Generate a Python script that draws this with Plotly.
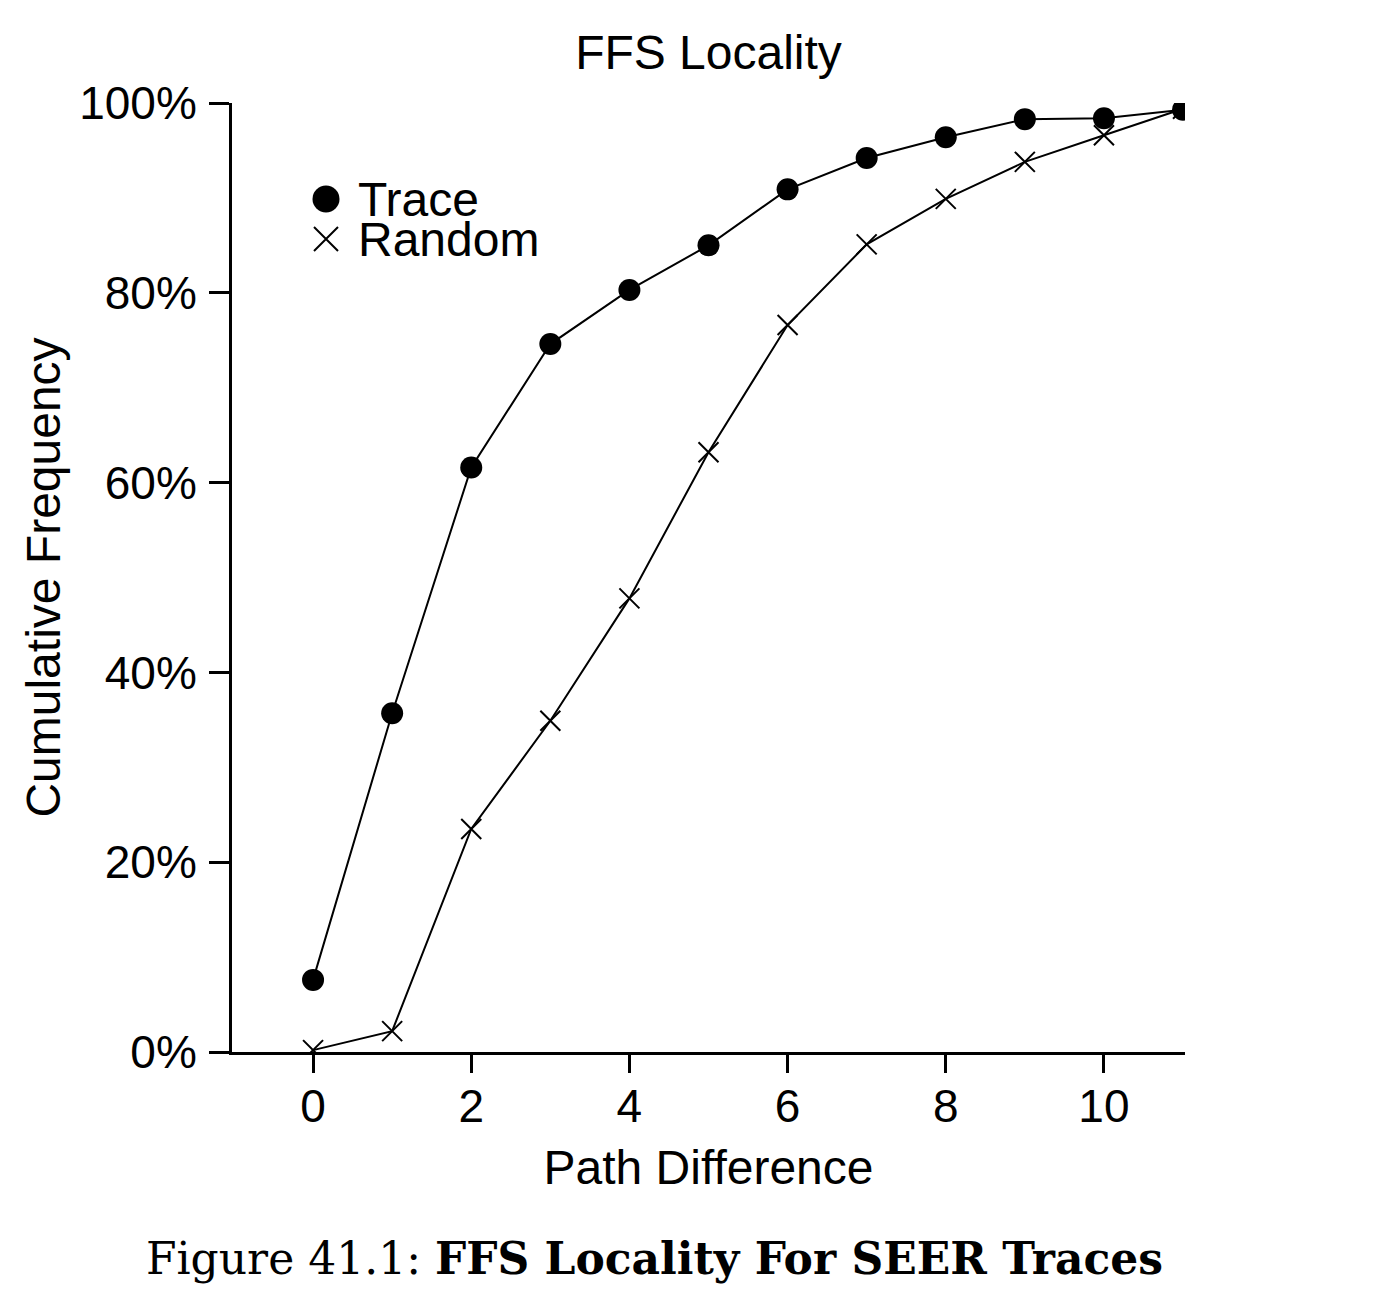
import plotly.graph_objects as go

path_diff = list(range(12))
trace_pct = [7.6, 35.7, 61.6, 74.6, 80.3, 85.0, 90.9, 94.2, 96.4, 98.3, 98.4, 99.3]
random_pct = [0.2, 2.2, 23.5, 34.9, 47.8, 63.2, 76.6, 85.1, 89.9, 93.8, 96.6, 99.4]
y_ticks = [0, 20, 40, 60, 80, 100]
y_tick_labels = ["0%", "20%", "40%", "60%", "80%", "100%"]
x_ticks = [0, 2, 4, 6, 8, 10]
legend_names = ["Trace", "Random"]

FONT = "Liberation Sans, Arial, Helvetica, sans-serif"

W, H = 1396, 1300
L, R, T, B = 232, 211, 103, 248
PW, PH = W - L - R, H - T - B


def px_x(p):
    return (p - L) / PW


def px_y(p):
    return (H - B - p) / PH


fig = go.Figure()
fig.add_trace(go.Scatter(x=path_diff, y=trace_pct, mode="lines+markers", name="Trace",
                         line=dict(color="black", width=2),
                         marker=dict(symbol="circle", size=22, color="black"),
                         showlegend=False))
fig.add_trace(go.Scatter(x=path_diff, y=random_pct, mode="lines+markers", name="Random",
                         line=dict(color="black", width=2),
                         marker=dict(symbol="x-thin", size=20, color="black",
                                     line=dict(color="black", width=2)),
                         showlegend=False))

# custom legend keys on an overlay axis (0..1 coordinates)
fig.add_trace(go.Scatter(x=[0.5], y=[0.5], xaxis="x2", yaxis="y2", mode="markers",
                         marker=dict(symbol="circle", size=27, color="black"),
                         showlegend=False, hoverinfo="skip"))
fig.add_trace(go.Scatter(x=[0.5], y=[-0.5], xaxis="x2", yaxis="y2", mode="markers",
                         marker=dict(symbol="x-thin", size=24, color="black",
                                     line=dict(color="black", width=2)),
                         showlegend=False, hoverinfo="skip"))

legend_y_px = [199, 239]
for name, ypx in zip(legend_names, legend_y_px):
    fig.add_annotation(x=px_x(356), y=px_y(ypx), xref="paper", yref="paper", text=name,
                       showarrow=False, xanchor="left", yanchor="middle",
                       font=dict(family=FONT, size=48, color="black"))

fig.update_layout(
    width=W, height=H,
    margin=dict(l=L, r=R, t=T, b=B),
    paper_bgcolor="white", plot_bgcolor="white",
    font=dict(family=FONT, size=46, color="black"),
    title=dict(text="FFS Locality", x=0.5, xref="paper", y=1 - 52 / H, yanchor="middle",
               font=dict(family=FONT, size=48, color="black")),
    xaxis=dict(range=[-1.025, 11.025], tickvals=x_ticks, showline=True, linewidth=3,
               linecolor="black", ticks="outside", ticklen=18, tickwidth=3, tickcolor="black",
               showgrid=False, zeroline=False, ticklabelstandoff=-6,
               tickfont=dict(family=FONT, size=46),
               title=dict(text="Path Difference", font=dict(family=FONT, size=48), standoff=20)),
    yaxis=dict(range=[0, 100], tickvals=y_ticks, ticktext=y_tick_labels, showline=True, linewidth=3,
               linecolor="black", ticks="outside", ticklen=20, tickwidth=3, tickcolor="black",
               showgrid=False, zeroline=False, ticklabelstandoff=3,
               tickfont=dict(family=FONT, size=46),
               title=dict(text="Cumulative Frequency", font=dict(family=FONT, size=48), standoff=4)),
    xaxis2=dict(domain=[px_x(296), px_x(356)], range=[0, 1], visible=False, anchor="y2"),
    yaxis2=dict(domain=[px_y(259), px_y(179)], range=[-1, 1], visible=False, anchor="x2"),
)

# caption
fig.add_annotation(x=px_x(654), y=px_y(1258), xref="paper", yref="paper", showarrow=False,
                   text="Figure 41.1: <b>FFS Locality For SEER Traces</b>",
                   font=dict(family="DejaVu Serif, Liberation Serif, serif", size=44, color="black"),
                   xanchor="center", yanchor="middle")

fig.write_html("out.html")
